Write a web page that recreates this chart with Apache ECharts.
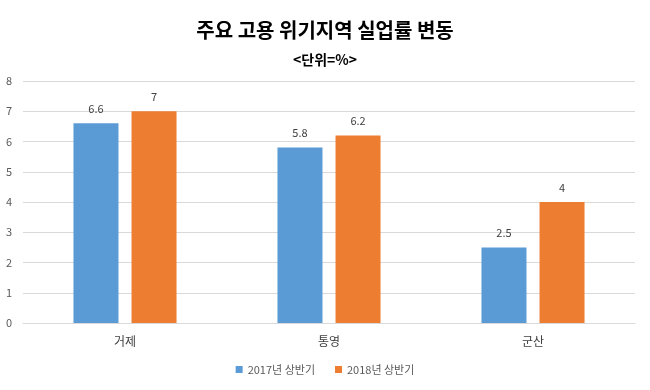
<!DOCTYPE html>
<html><head><meta charset="utf-8">
<script src="https://cdn.jsdelivr.net/npm/echarts@6/dist/echarts.min.js"></script>
<style>html,body{margin:0;padding:0;background:#fff}#c{width:650px;height:390px}</style>
</head><body><div id="c"></div>
<script>
const categories = ['거제', '통영', '군산'];
const series2017 = [6.6, 5.8, 2.5];
const series2018 = [7, 6.2, 4];
const seriesNames = ['2017년 상반기', '2018년 상반기'];
const yTicks = [0, 8, 1];

const font = '"Noto Sans CJK KR", "Noto Sans", sans-serif';
const chart = echarts.init(document.getElementById('c'));
chart.setOption({
  animation: false,
  backgroundColor: '#fff',
  title: [
    {text: '주요 고용 위기지역 실업률 변동', left: 'center', top: 15,
     textStyle: {fontFamily: font, fontSize: 20, fontWeight: 'bold', color: '#000'}},
    {text: '<단위=%>', left: 'center', top: 48,
     textStyle: {fontFamily: font, fontSize: 14, fontWeight: 'bold', color: '#000'}}
  ],
  legend: {
    bottom: 10, left: 'center', itemWidth: 7, itemHeight: 7, itemGap: 20,
    icon: 'rect',
    textStyle: {fontFamily: font, fontSize: 11, color: '#595959'},
    data: seriesNames
  },
  grid: {left: 23, right: 15, top: 81, bottom: 67},
  xAxis: {
    type: 'category', data: categories,
    axisLine: {lineStyle: {color: '#d9d9d9'}},
    axisTick: {show: false},
    axisLabel: {fontFamily: font, fontSize: 12, color: '#404040', margin: 12}
  },
  yAxis: {
    type: 'value', min: yTicks[0], max: yTicks[1], interval: yTicks[2],
    axisLabel: {fontFamily: font, fontSize: 11, color: '#595959', margin: 11},
    splitLine: {lineStyle: {color: '#d9d9d9'}},
    axisLine: {show: false}, axisTick: {show: false}
  },
  series: [
    {name: seriesNames[0], type: 'bar', data: series2017, barWidth: 45, barGap: '29%',
     itemStyle: {color: '#5B9BD5'},
     label: {show: true, position: 'top', fontFamily: font, fontSize: 11, color: '#404040', distance: 9}},
    {name: seriesNames[1], type: 'bar', data: series2018, barWidth: 45,
     itemStyle: {color: '#ED7D31'},
     label: {show: true, position: 'top', fontFamily: font, fontSize: 11, color: '#404040', distance: 9}}
  ]
});
</script></body></html>
